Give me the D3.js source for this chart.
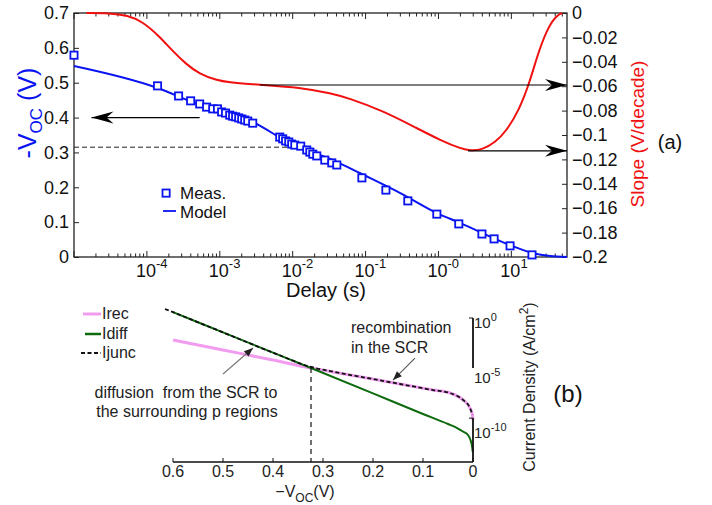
<!DOCTYPE html>
<html>
<head>
<meta charset="utf-8">
<script src="https://cdn.jsdelivr.net/npm/d3@7"></script>
<style>
  body { margin: 0; background: #fff; }
  svg { font-family: "Liberation Sans", Arial, sans-serif; }
</style>
</head>
<body>
<svg id="chart" width="712" height="505"></svg>
<script>
// ---- panel (a): Voc transient ----
const measDelay = [1.0e-5, 1.40e-4, 2.72e-4, 3.98e-4, 5.3e-4, 6.6e-4, 8.0e-4, 9.3e-4, 1.06e-3, 1.20e-3,
  1.37e-3, 1.50e-3, 1.65e-3, 1.82e-3, 2.0e-3, 2.2e-3, 2.42e-3, 2.83e-3, 6.65e-3, 7.3e-3,
  8.0e-3, 8.85e-3, 9.7e-3, 1.07e-2, 1.29e-2, 1.56e-2, 1.72e-2, 1.89e-2, 2.14e-2, 2.76e-2,
  3.44e-2, 4.03e-2, 0.089, 0.19, 0.38, 0.95, 1.9, 3.95, 5.8, 9.6, 19.2];
const measVoc = [0.579, 0.491, 0.462, 0.448, 0.439, 0.430, 0.425, 0.425, 0.416, 0.413,
  0.407, 0.404, 0.402, 0.399, 0.396, 0.393, 0.390, 0.384, 0.344, 0.339,
  0.333, 0.330, 0.324, 0.321, 0.318, 0.307, 0.301, 0.295, 0.290, 0.278,
  0.270, 0.264, 0.227, 0.192, 0.161, 0.123, 0.095, 0.066, 0.052, 0.032, 0.006];

const modelDelay = [1.0e-5, 1.40e-4, 5.3e-4, 2.83e-3, 9.1e-3, 4.03e-2, 8.3e-2, 0.295, 0.95, 1.97, 9.6, 19.9, 34, 58];
const modelVoc = [0.548, 0.485, 0.436, 0.387, 0.327, 0.273, 0.241, 0.184, 0.126, 0.098, 0.034, 0.011, 0.003, 0.0];

const slopeDelay = [1.48e-5, 3.0e-5, 5.5e-5, 8.7e-5, 1.48e-4, 2.24e-4, 3.47e-4, 5.25e-4, 8.9e-4, 1.4e-3,
  2.2e-3, 4.0e-3, 1.23e-2, 3.47e-2, 6.0e-2, 0.17, 0.49, 1.12, 2.0, 2.8, 4.0, 6.0, 8.5, 12.9, 17.8, 24, 33, 42, 50];
const slopeVal = [0, 0, -0.002, -0.007, -0.019, -0.031, -0.042, -0.050, -0.055, -0.057,
  -0.058, -0.059, -0.061, -0.066, -0.070, -0.080, -0.094, -0.105, -0.111, -0.113, -0.112, -0.106, -0.097, -0.079, -0.057, -0.030, -0.010, -0.002, 0];

const delayTicks = [1e-4, 1e-3, 1e-2, 1e-1, 1, 10];
const delayTickExp = ['-4', '-3', '-2', '-1', '-0', '1'];
const vocTicks = [0, 0.1, 0.2, 0.3, 0.4, 0.5, 0.6, 0.7];
const slopeTicks = [0, -0.02, -0.04, -0.06, -0.08, -0.1, -0.12, -0.14, -0.16, -0.18, -0.2];

// ---- panel (b): current components vs -Voc (log10 of A/cm2) ----
const recV = [0.6, 0.5, 0.4, 0.324, 0.28, 0.212, 0.146, 0.08, 0.046, 0.02, 0.006, 0.001, 0.0002];
const recLogJ = [-2.0, -2.91, -3.82, -4.55, -4.9, -5.45, -6.0, -6.55, -6.82, -7.45, -8.18, -8.82, -9.27];
const diffV = [0.6, 0.5, 0.4, 0.324, 0.2, 0.1, 0.05, 0.03, 0.02, 0.01, 0.005, 0.002, 0.0005];
const diffLogJ = [0.53, -1.31, -3.15, -4.55, -6.85, -8.73, -9.64, -10.05, -10.32, -10.64, -11.09, -11.64, -12.18];
const juncV = [0.616, 0.6, 0.5, 0.4, 0.324, 0.28, 0.212, 0.146, 0.08, 0.046, 0.02, 0.006, 0.001];
const juncLogJ = [0.82, 0.53, -1.31, -3.15, -4.45, -4.88, -5.45, -6.0, -6.55, -6.82, -7.45, -8.18, -8.82];
const crossV = 0.324, crossLogJ = -4.55;

const vTicks = [0.6, 0.5, 0.4, 0.3, 0.2, 0.1, 0];
const jTicks = [0, -5, -10];

const blue = '#0a14f0', red = '#f01010', pink = '#f29cf0', green = '#0d6a0d';

const svg = d3.select('#chart');

// arrowheads
const defs = svg.append('defs');
defs.append('marker').attr('id', 'stealth')
    .attr('markerUnits', 'userSpaceOnUse').attr('viewBox', '-23 -7 24 14')
    .attr('markerWidth', 24).attr('markerHeight', 14).attr('refX', 0).attr('refY', 0)
    .attr('orient', 'auto')
  .append('path').attr('d', 'M0,0 L-22,-6 L-15,0 L-22,6 Z').attr('fill', '#000');
defs.append('marker').attr('id', 'small')
    .attr('markerUnits', 'userSpaceOnUse').attr('viewBox', '-10 -4 11 8')
    .attr('markerWidth', 11).attr('markerHeight', 8).attr('refX', 0).attr('refY', 0)
    .attr('orient', 'auto')
  .append('path').attr('d', 'M0,0 L-9,-3.5 L-9,3.5 Z').attr('fill', '#222');

//================ panel (a) ================
const xT = d3.scaleLog().domain([1e-5, 58]).range([74, 567]);
const yV = d3.scaleLinear().domain([0, 0.7]).range([257, 13]);
const yS = d3.scaleLinear().domain([-0.2, 0]).range([257, 13]);

const a = svg.append('g');
const [x0, x1] = xT.range();

// minor/major ticks on top and bottom
const allT = xT.ticks().filter(d => d >= 1e-5 && d <= 58);
allT.forEach(d => {
  const major = Math.abs(Math.log10(d) - Math.round(Math.log10(d))) < 1e-9;
  const len = major ? 6 : 3.5;
  a.append('line').attr('x1', xT(d)).attr('x2', xT(d)).attr('y1', 257).attr('y2', 257 - len)
    .attr('stroke', '#222').attr('stroke-width', 1);
  a.append('line').attr('x1', xT(d)).attr('x2', xT(d)).attr('y1', 13).attr('y2', 13 + len)
    .attr('stroke', '#222').attr('stroke-width', 1);
});

// left axis
const yAxisL = d3.axisLeft(yV).tickValues(vocTicks).tickSize(-5).tickPadding(5)
  .tickFormat(d => d === 0 ? '0' : d3.format('.1f')(d));
a.append('g').attr('transform', `translate(${x0},0)`).call(yAxisL)
  .call(g => g.select('.domain').remove())
  .call(g => g.selectAll('text').attr('font-size', 18).attr('fill', '#111').attr('font-family', 'Liberation Sans, Arial'))
  .call(g => g.selectAll('line').attr('stroke', '#222'));

// right axis
const yAxisR = d3.axisRight(yS).tickValues(slopeTicks).tickSize(-5).tickPadding(5)
  .tickFormat(d => d === 0 ? '0' : '\u2212' + String(+(-d).toFixed(2)));
a.append('g').attr('transform', `translate(${x1},0)`).call(yAxisR)
  .call(g => g.select('.domain').remove())
  .call(g => g.selectAll('text').attr('font-size', 18).attr('fill', '#111').attr('font-family', 'Liberation Sans, Arial'))
  .call(g => g.selectAll('line').attr('stroke', '#222'));

// frame
a.append('rect').attr('x', x0).attr('y', 13).attr('width', x1 - x0).attr('height', 244)
  .attr('fill', 'none').attr('stroke', '#222').attr('stroke-width', 1.3);

// x tick labels with superscripts
delayTicks.forEach((d, i) => {
  const t = a.append('text').attr('x', xT(d) - 11).attr('y', 277).attr('font-size', 18).attr('fill', '#111');
  t.append('tspan').text('10');
  t.append('tspan').attr('font-size', 13).attr('dy', -9).text(delayTickExp[i]);
});

// axis titles
a.append('text').attr('x', 326).attr('y', 297).attr('text-anchor', 'middle')
  .attr('font-size', 20).attr('fill', '#111').text('Delay (s)');
const tl = a.append('text').attr('transform', 'translate(36,113) rotate(-90)')
  .attr('text-anchor', 'middle').attr('font-size', 25).attr('fill', blue);
tl.append('tspan').text('-V');
tl.append('tspan').attr('font-size', 17).attr('dy', 6).text('OC');
tl.append('tspan').attr('dy', -6).text(' (V)');
a.append('text').attr('transform', 'translate(644,134) rotate(-90)').attr('text-anchor', 'middle')
  .attr('font-size', 19).attr('fill', red).text('Slope (V/decade)');
a.append('text').attr('x', 670).attr('y', 149).attr('text-anchor', 'middle')
  .attr('font-size', 20).attr('fill', '#111').text('(a)');

// slope curve
const slopeData = slopeDelay.map((d, i) => [d, slopeVal[i]]);
a.append('path').datum(slopeData)
  .attr('d', d3.line().x(d => xT(d[0])).y(d => yS(d[1])).curve(d3.curveBasis))
  .attr('fill', 'none').attr('stroke', red).attr('stroke-width', 2);

// model
const modelData = modelDelay.map((d, i) => [d, modelVoc[i]]);
a.append('path').datum(modelData)
  .attr('d', d3.line().x(d => xT(d[0])).y(d => yV(d[1])).curve(d3.curveMonotoneX))
  .attr('fill', 'none').attr('stroke', blue).attr('stroke-width', 2);

// measurements
const measData = measDelay.map((d, i) => [d, measVoc[i]]);
a.append('g').selectAll('rect').data(measData).join('rect')
  .attr('x', d => xT(d[0]) - 3.6).attr('y', d => yV(d[1]) - 3.6)
  .attr('width', 7.2).attr('height', 7.2)
  .attr('fill', '#fff').attr('stroke', blue).attr('stroke-width', 1.8);

// annotation arrows
a.append('line').attr('x1', xT(10 ** -3.276)).attr('x2', xT(10 ** -4.76))
  .attr('y1', yV(0.4)).attr('y2', yV(0.4))
  .attr('stroke', '#000').attr('stroke-width', 1.2).attr('marker-end', 'url(#stealth)');
a.append('line').attr('x1', xT(10 ** -2.45)).attr('x2', x1)
  .attr('y1', yS(-0.059)).attr('y2', yS(-0.059))
  .attr('stroke', '#000').attr('stroke-width', 1.2).attr('marker-end', 'url(#stealth)');
a.append('line').attr('x1', xT(10 ** 0.405)).attr('x2', x1)
  .attr('y1', yS(-0.113)).attr('y2', yS(-0.113))
  .attr('stroke', '#000').attr('stroke-width', 1.2).attr('marker-end', 'url(#stealth)');
a.append('line').attr('x1', x0).attr('x2', xT(10 ** -2.05))
  .attr('y1', yV(0.315)).attr('y2', yV(0.315))
  .attr('stroke', '#222').attr('stroke-width', 1).attr('stroke-dasharray', '5,3');

// legend (a)
a.append('rect').attr('x', 162.5).attr('y', 189.5).attr('width', 7.2).attr('height', 7.2)
  .attr('fill', '#fff').attr('stroke', blue).attr('stroke-width', 1.8);
a.append('text').attr('x', 180).attr('y', 199).attr('font-size', 17).attr('fill', '#111').text('Meas.');
a.append('line').attr('x1', 163).attr('x2', 176).attr('y1', 211).attr('y2', 211)
  .attr('stroke', blue).attr('stroke-width', 1.8);
a.append('text').attr('x', 180).attr('y', 218).attr('font-size', 17).attr('fill', '#111').text('Model');

//================ panel (b) ================
const xB = d3.scaleLinear().domain([0.6, 0]).range([173, 473]);
const yB = d3.scaleLinear().domain([0, -10]).range([318, 428]);
const bBottom = 462;
const b = svg.append('g');

const lineB = d3.line().x(d => xB(d[0])).y(d => yB(d[1])).curve(d3.curveMonotoneX);
const zip = (xs, ys) => xs.map((v, i) => [v, ys[i]]);

b.append('path').datum(zip(recV, recLogJ)).attr('d', lineB)
  .attr('fill', 'none').attr('stroke', pink).attr('stroke-width', 3);
b.append('path').datum(zip(diffV, diffLogJ)).attr('d', lineB)
  .attr('fill', 'none').attr('stroke', green).attr('stroke-width', 2);
b.append('path').datum(zip(juncV, juncLogJ)).attr('d', lineB)
  .attr('fill', 'none').attr('stroke', '#111').attr('stroke-width', 1.8).attr('stroke-dasharray', '4,2.5');

// vertical dashed marker at crossing
b.append('line').attr('x1', xB(crossV)).attr('x2', xB(crossV))
  .attr('y1', yB(crossLogJ)).attr('y2', bBottom)
  .attr('stroke', '#111').attr('stroke-width', 1.2).attr('stroke-dasharray', '5,4');

// x axis (b)
b.append('line').attr('x1', xB(0.6)).attr('x2', xB(0)).attr('y1', bBottom).attr('y2', bBottom)
  .attr('stroke', '#111').attr('stroke-width', 1.5);
vTicks.forEach(v => {
  b.append('line').attr('x1', xB(v)).attr('x2', xB(v)).attr('y1', bBottom).attr('y2', bBottom - 4)
    .attr('stroke', '#111').attr('stroke-width', 1);
  b.append('text').attr('x', xB(v)).attr('y', 477).attr('text-anchor', 'middle')
    .attr('font-size', 16).attr('fill', '#222').text(v === 0 ? '0' : d3.format('.1f')(v));
});
const xl = b.append('text').attr('x', 305).attr('y', 497).attr('text-anchor', 'middle')
  .attr('font-size', 16).attr('fill', '#222');
xl.append('tspan').text('\u2212V');
xl.append('tspan').attr('font-size', 12).attr('dy', 5).text('OC');
xl.append('tspan').attr('dy', -5).text('(V)');

// y axis (b), drawn in two pieces as in the original
const yAx = xB(0);
b.append('line').attr('x1', yAx).attr('x2', yAx).attr('y1', yB(0)).attr('y2', yB(-4.55))
  .attr('stroke', '#111').attr('stroke-width', 1.8);
b.append('line').attr('x1', yAx).attr('x2', yAx).attr('y1', yB(-9.1)).attr('y2', bBottom)
  .attr('stroke', '#111').attr('stroke-width', 1.8);
[0, -9.1].forEach(e => {
  b.append('line').attr('x1', yAx - 4).attr('x2', yAx).attr('y1', yB(e)).attr('y2', yB(e))
    .attr('stroke', '#111').attr('stroke-width', 1);
});
jTicks.forEach(e => {
  const t = b.append('text').attr('x', yAx + 1).attr('y', yB(e) + 10).attr('font-size', 15).attr('fill', '#222');
  t.append('tspan').text('10');
  t.append('tspan').attr('font-size', 11).attr('dy', -7).text(e === 0 ? '0' : String(e));
});
const yl = b.append('text').attr('transform', 'translate(535,387) rotate(-90)').attr('text-anchor', 'middle')
  .attr('font-size', 16).attr('fill', '#222');
yl.append('tspan').text('Current Density (A/cm');
yl.append('tspan').attr('font-size', 12).attr('dy', -7).text('2');
yl.append('tspan').attr('dy', 7).text(')');
b.append('text').attr('x', 568).attr('y', 402).attr('text-anchor', 'middle')
  .attr('font-size', 24).attr('fill', '#111').text('(b)');

// legend (b)
const legB = [
  { label: 'Irec', color: pink, w: 3, dash: null, y: 314, x1: 83 },
  { label: 'Idiff', color: green, w: 2.5, dash: null, y: 334, x1: 85 },
  { label: 'Ijunc', color: '#111', w: 2, dash: '4,2.5', y: 353, x1: 81 }
];
legB.forEach(l => {
  b.append('line').attr('x1', l.x1).attr('x2', 101).attr('y1', l.y).attr('y2', l.y)
    .attr('stroke', l.color).attr('stroke-width', l.w).attr('stroke-dasharray', l.dash);
  b.append('text').attr('x', 102).attr('y', l.y + 5).attr('font-size', 16).attr('fill', '#222').text(l.label);
});

// annotations (b)
b.append('line').attr('x1', xB(0.5)).attr('y1', yB(-5.09)).attr('x2', xB(0.44)).attr('y2', yB(-2.73))
  .attr('stroke', '#777').attr('stroke-width', 1.1).attr('marker-end', 'url(#small)');
b.append('line').attr('x1', xB(0.116)).attr('y1', yB(-3.64)).attr('x2', xB(0.16)).attr('y2', yB(-5.64))
  .attr('stroke', '#555').attr('stroke-width', 1.1).attr('marker-end', 'url(#small)');

b.append('text').attr('x', 186).attr('y', 398).attr('text-anchor', 'middle').attr('font-size', 16)
  .attr('fill', '#222').style('white-space', 'pre').text('diffusion  from the SCR to');
b.append('text').attr('x', 187).attr('y', 417).attr('text-anchor', 'middle').attr('font-size', 16)
  .attr('fill', '#222').text('the surrounding p regions');
b.append('text').attr('x', 351).attr('y', 333).attr('font-size', 16).attr('fill', '#222').text('recombination');
b.append('text').attr('x', 351).attr('y', 353).attr('font-size', 16).attr('fill', '#222').text('in the SCR');
</script>
</body>
</html>
